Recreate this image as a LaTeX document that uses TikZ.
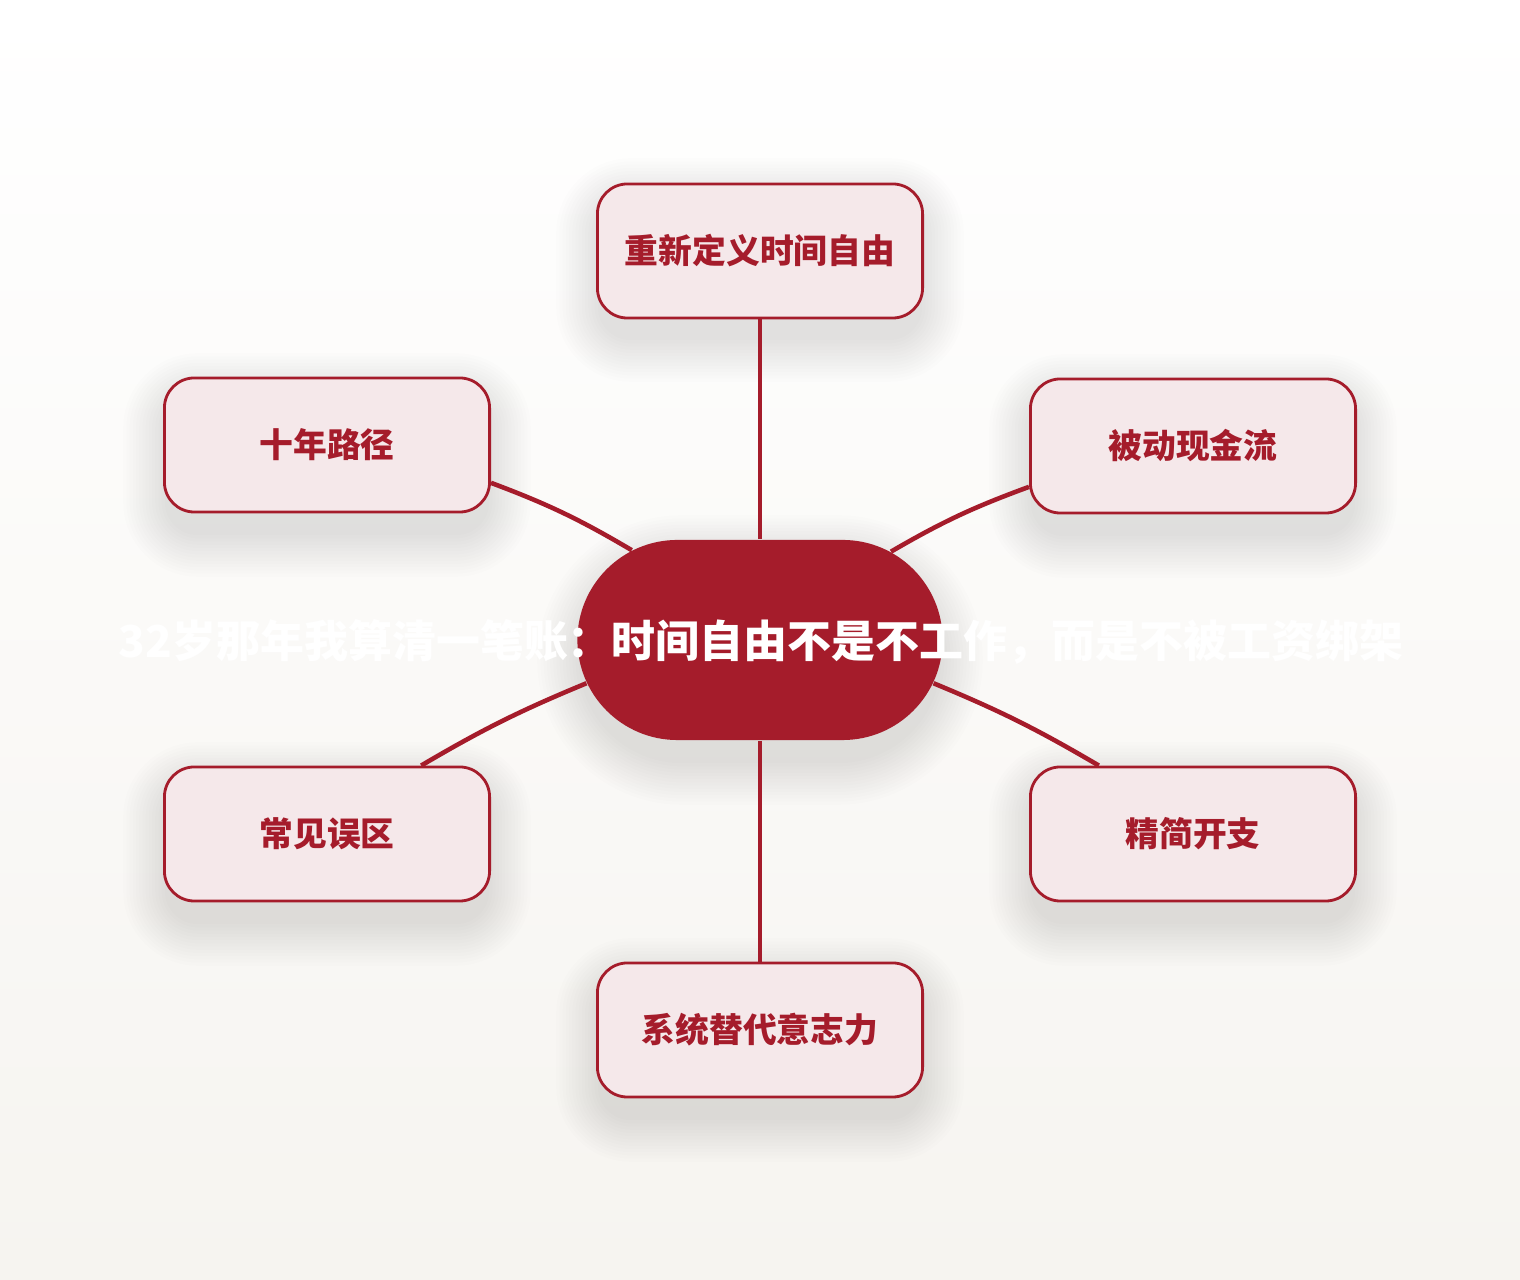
\documentclass[tikz,border=0pt]{standalone}
\usepackage{fontspec}
\newfontfamily\cjk{Noto Sans CJK SC}
\usetikzlibrary{shapes.misc}
\definecolor{wine}{HTML}{A51C2B}
\definecolor{blush}{HTML}{F5E8EA}
\definecolor{paper}{HTML}{F6F4F0}
% soft shadow: x, y, half width, half height, corner radius
\newcommand\haze[5]{%
  \foreach \k in {1,...,14}{
    \pgfmathsetmacro\g{3.2*\k}
    \pgfmathsetmacro\rr{(#5+\g)*0.01}
    \fill[black,opacity=0.0085,rounded corners=\rr cm]
      ({#1-#3-\g+4},{#2-#4-\g+20}) rectangle ({#1+#3+\g-4},{#2+#4+\g+20});
  }}

\begin{document}
\begin{tikzpicture}[x=0.01cm,y=-0.01cm,
  topic/.style={draw=wine,line width=0.8pt,fill=blush,rounded corners=0.3cm,
    minimum width=3.25cm,minimum height=1.34cm,text=wine,
    font=\cjk\bfseries\fontsize{9.6}{11}\selectfont},
  hub/.style={rounded rectangle,fill=wine,minimum width=3.65cm,minimum height=2cm,inner sep=0pt},
  link/.style={draw=wine,line width=1.3pt}]
\useasboundingbox (0,0) rectangle (1520,1280);
\shade[top color=white,bottom color=paper] (0,0) rectangle (1520,1280);

% shadows first
\foreach \x/\y in {760/250,327/445,1193/446,327/834,1193/834,760/1030}
  \haze{\x}{\y}{163}{67}{30};
\haze{760}{640}{182}{100}{100}

% the six topics round the hub
\node[topic] (def)   at (760,251)  {重新定义时间自由};
\node[topic] (path)  at (327,445)  {十年路径};
\node[topic] (flow)  at (1193,446) {被动现金流};
\node[topic] (myth)  at (327,834)  {常见误区};
\node[topic] (trim)  at (1193,834) {精简开支};
\node[topic] (sys)   at (760,1030) {系统替代意志力};

\node[hub] (hub) at (760,640) {};

\draw[link] (hub) -- (def);
\draw[link] (hub) -- (sys);
\draw[link] (hub.145.7) to[bend right=5] (path.-13.5);
\draw[link] (hub.34.7) to[bend left=5] (flow.-166);
\draw[link] (hub.194.4) to[bend right=4] (myth.36);
\draw[link] (hub.-14.4) to[bend left=4] (trim.144);

\node[text=white,font=\cjk\bfseries\fontsize{12.5}{14}\selectfont] (title) at (761,642)
  {32岁那年我算清一笔账：时间自由不是不工作，而是不被工资绑架};
\end{tikzpicture}
\end{document}
